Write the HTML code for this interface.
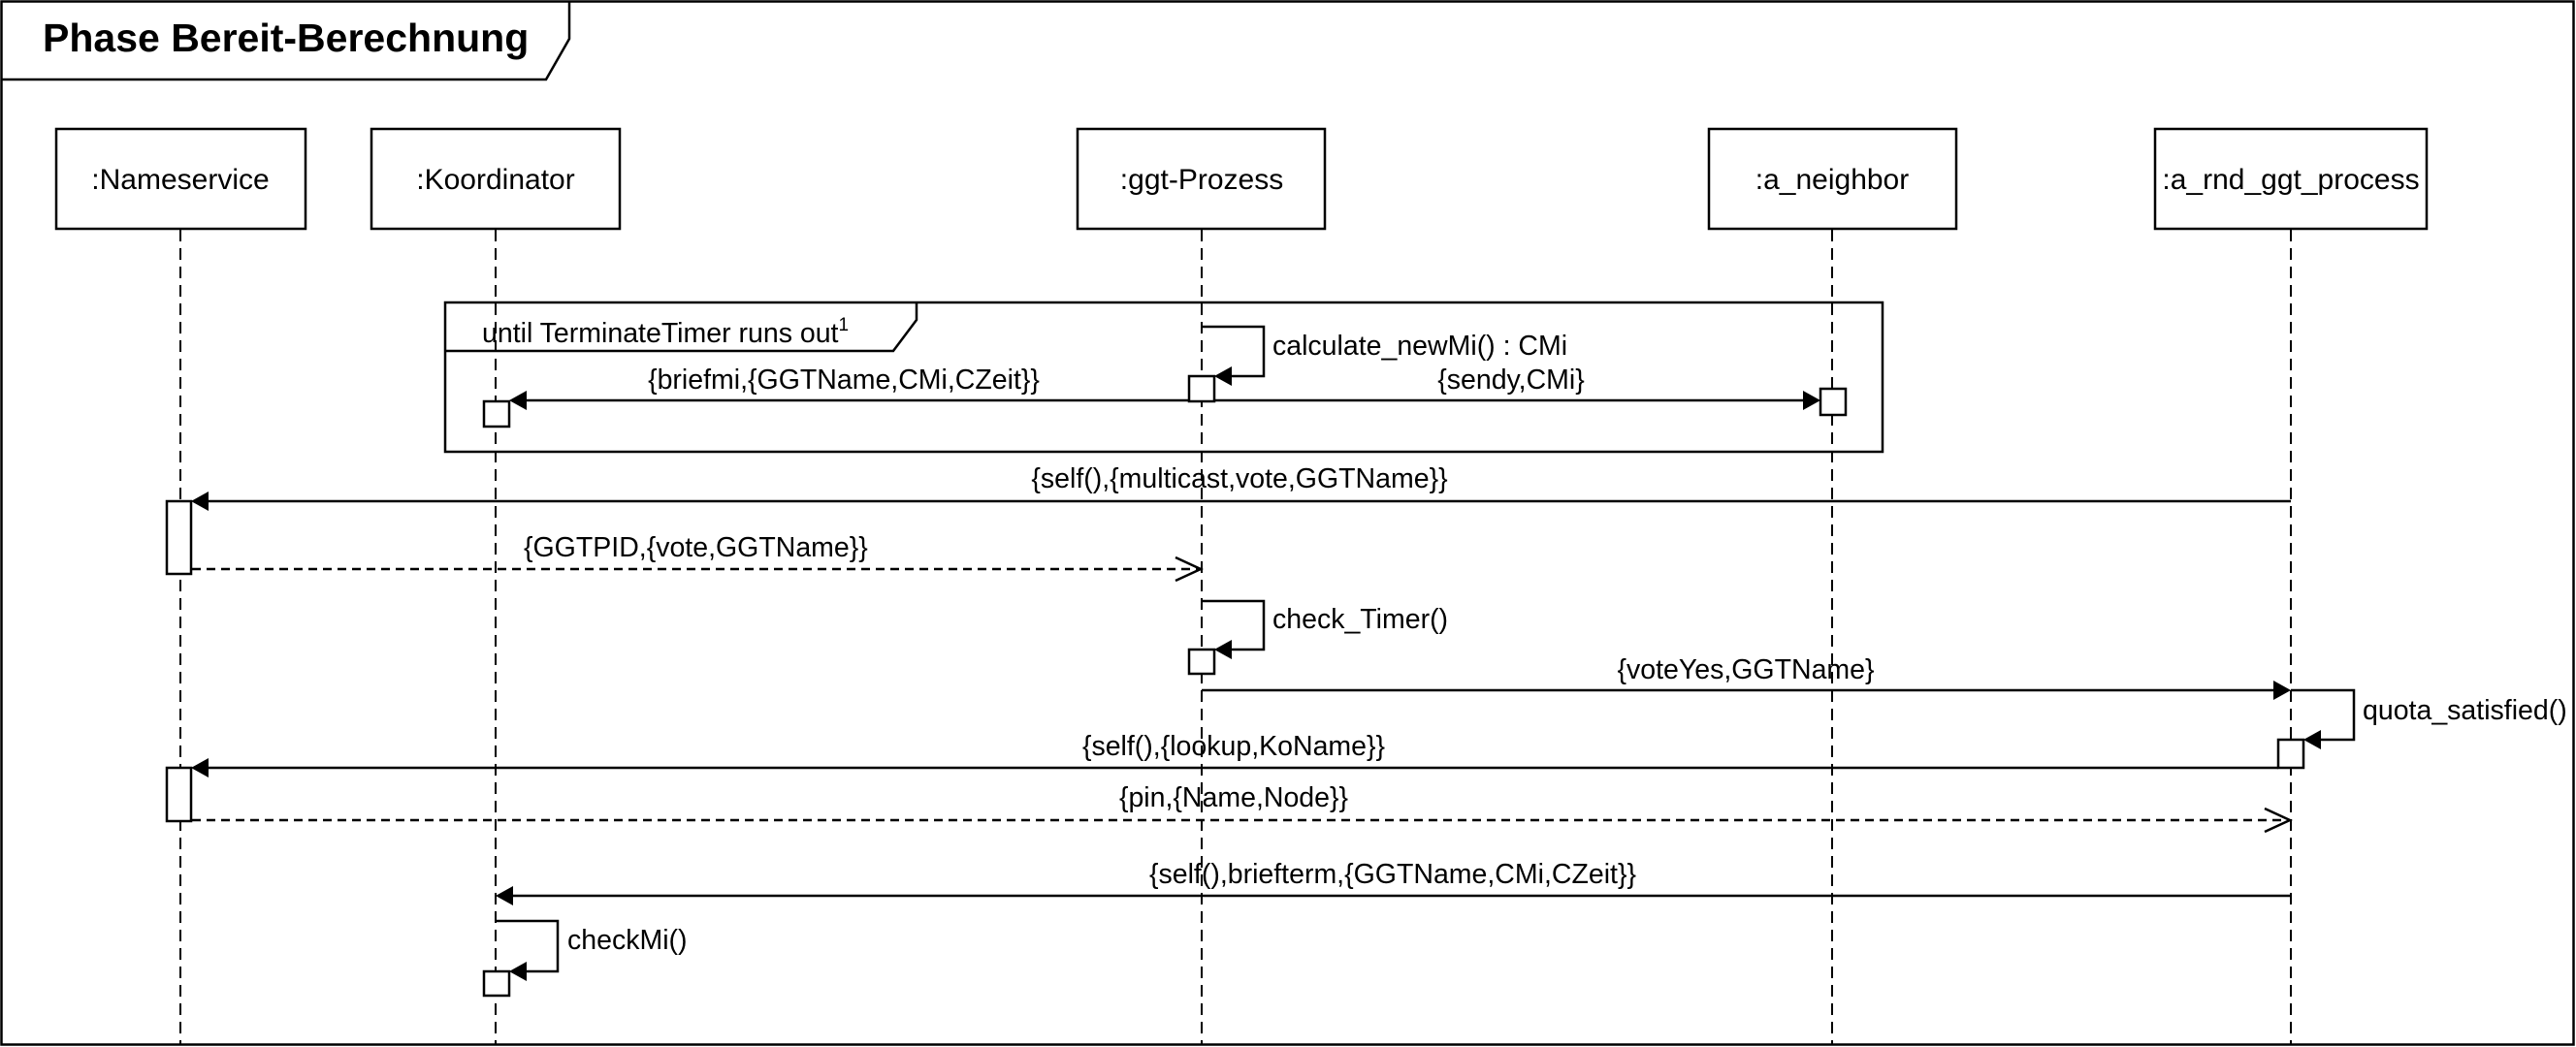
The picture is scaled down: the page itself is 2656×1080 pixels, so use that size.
<!DOCTYPE html>
<html><head><meta charset="utf-8"><style>
html,body{margin:0;padding:0;background:#fff;}
svg{display:block;}
text{font-family:"Liberation Sans",Arial,sans-serif;fill:#000;}
.l{font-size:28.5px;}
.n{font-size:30px;}
</style></head><body>
<svg width="2656" height="1080" viewBox="0 0 2656 1080" xmlns="http://www.w3.org/2000/svg">
<g fill="none" stroke="#000" stroke-width="2.5">
<rect x="1.5" y="1.5" width="2652" height="1076"/>
<path d="M1.5 82 H563 L587 40 V1.5"/>
</g>
<text x="44" y="53" style="font-size:41px;font-weight:bold">Phase Bereit-Berechnung</text>

<g fill="#fff" stroke="#000" stroke-width="2.5">
<rect x="58" y="133" width="257" height="103"/>
<rect x="383" y="133" width="256" height="103"/>
<rect x="1111" y="133" width="255" height="103"/>
<rect x="1762" y="133" width="255" height="103"/>
<rect x="2222" y="133" width="280" height="103"/>
</g>
<g text-anchor="middle">
<text x="186" y="195" class="n">:Nameservice</text>
<text x="511" y="195" class="n">:Koordinator</text>
<text x="1239" y="195" class="n">:ggt-Prozess</text>
<text x="1889" y="195" class="n">:a_neighbor</text>
<text x="2362" y="195" class="n">:a_rnd_ggt_process</text>
</g>

<g stroke="#000" stroke-width="2" stroke-dasharray="12 7">
<line x1="186" y1="237" x2="186" y2="1077"/>
<line x1="511" y1="237" x2="511" y2="1077"/>
<line x1="1239" y1="237" x2="1239" y2="1077"/>
<line x1="1889" y1="237" x2="1889" y2="1077"/>
<line x1="2362" y1="237" x2="2362" y2="1077"/>
</g>

<g fill="none" stroke="#000" stroke-width="2.5">
<rect x="459" y="312" width="1482" height="154"/>
<path d="M459 362 H921 L945 330 V312"/>
</g>
<text x="497" y="353" class="l">until TerminateTimer runs out<tspan dy="-12" style="font-size:19px">1</tspan></text>

<g fill="none" stroke="#000" stroke-width="2.5">
<path d="M1239 337 H1303 V388 H1268"/>
<line x1="1225" y1="413" x2="540" y2="413"/>
<line x1="1252" y1="413" x2="1862" y2="413"/>
<line x1="2362" y1="517" x2="212" y2="517"/>
<path d="M1239 620 H1303 V670 H1268"/>
<line x1="1239" y1="712" x2="2347" y2="712"/>
<path d="M2362 712 H2427 V763 H2390"/>
<line x1="2349" y1="792" x2="212" y2="792"/>
<line x1="2362" y1="924" x2="527" y2="924"/>
<path d="M511 950 H575 V1002 H540"/>
</g>
<g fill="none" stroke="#000" stroke-width="2.5">
<line x1="198" y1="587" x2="1237" y2="587" stroke-dasharray="9 6"/>
<path d="M1212 575 L1238 587 L1212 599"/>
<line x1="198" y1="846" x2="2360" y2="846" stroke-dasharray="9 6"/>
<path d="M2335 834 L2361 846 L2335 858"/>
</g>
<g fill="#000">
<polygon points="1252,388 1270,378 1270,398"/>
<polygon points="525,413 543,403 543,423"/>
<polygon points="1877,413 1859,403 1859,423"/>
<polygon points="197,517 215,507 215,527"/>
<polygon points="1252,670 1270,660 1270,680"/>
<polygon points="2362,712 2344,702 2344,722"/>
<polygon points="2375,763 2393,753 2393,773"/>
<polygon points="197,792 215,782 215,802"/>
<polygon points="511,924 529,914 529,934"/>
<polygon points="525,1002 543,992 543,1012"/>
</g>
<g fill="#fff" stroke="#000" stroke-width="2.5">
<rect x="1226" y="388" width="26" height="26"/>
<rect x="499" y="414" width="26" height="26"/>
<rect x="1877" y="401" width="26" height="27"/>
<rect x="172" y="517" width="25" height="75"/>
<rect x="1226" y="670" width="26" height="25"/>
<rect x="2349" y="763" width="26" height="29"/>
<rect x="172" y="792" width="25" height="55"/>
<rect x="499" y="1002" width="26" height="25"/>
</g>

<g>
<text x="1312" y="366" class="l">calculate_newMi() : CMi</text>
<text x="870" y="401" text-anchor="middle" class="l">{briefmi,{GGTName,CMi,CZeit}}</text>
<text x="1558" y="401" text-anchor="middle" class="l">{sendy,CMi}</text>
<text x="1278" y="503" text-anchor="middle" class="l">{self(),{multicast,vote,GGTName}}</text>
<text x="540" y="574" class="l">{GGTPID,{vote,GGTName}}</text>
<text x="1312" y="648" class="l">check_Timer()</text>
<text x="1800" y="700" text-anchor="middle" class="l">{voteYes,GGTName}</text>
<text x="2436" y="742" class="l">quota_satisfied()</text>
<text x="1272" y="779" text-anchor="middle" class="l">{self(),{lookup,KoName}}</text>
<text x="1272" y="832" text-anchor="middle" class="l">{pin,{Name,Node}}</text>
<text x="1436" y="911" text-anchor="middle" class="l">{self(),briefterm,{GGTName,CMi,CZeit}}</text>
<text x="585" y="979" class="l">checkMi()</text>
</g>
</svg>
</body></html>
